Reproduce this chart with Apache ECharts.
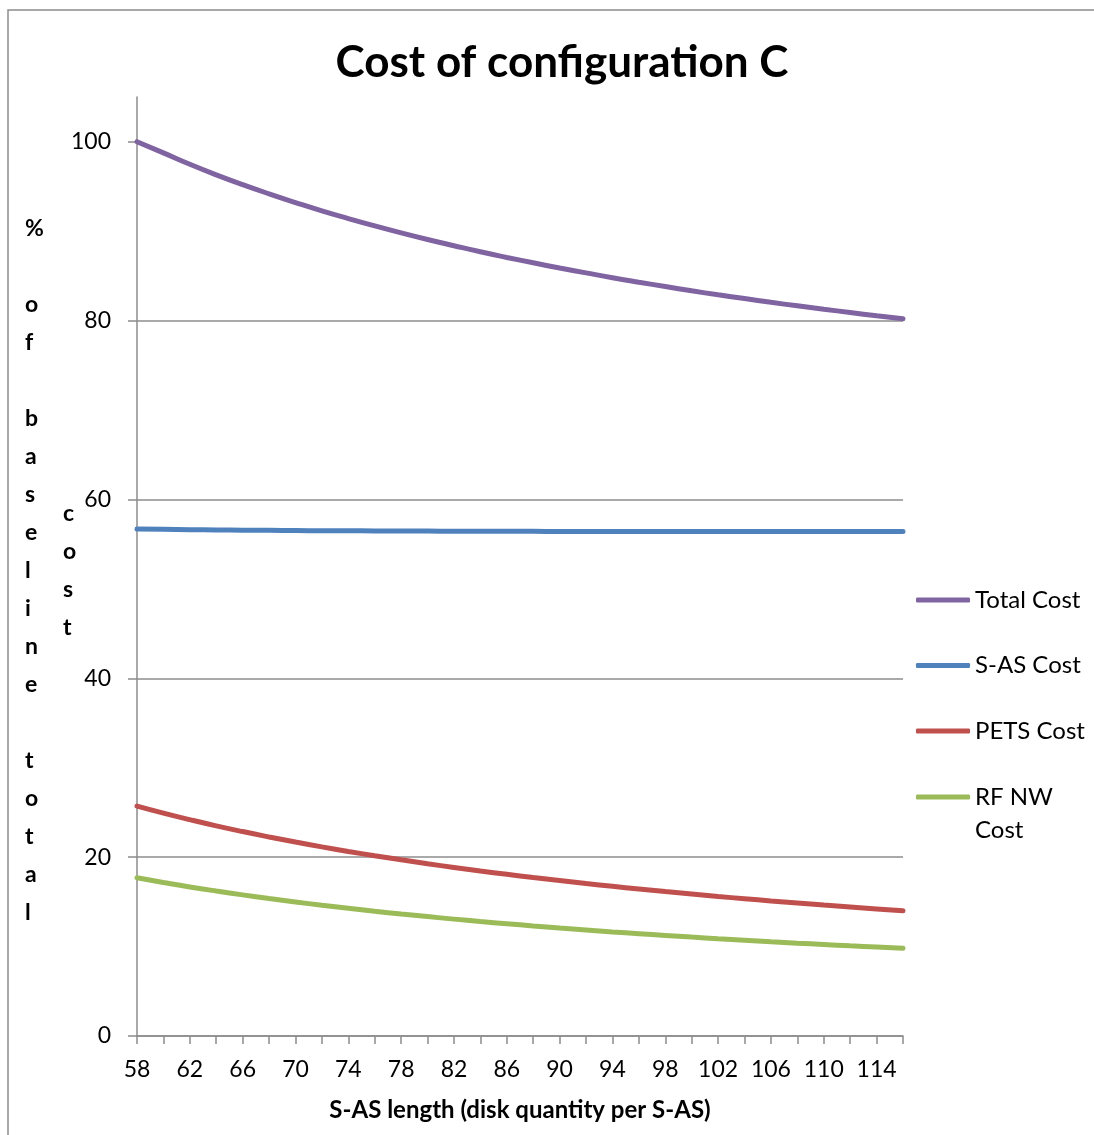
<!DOCTYPE html>
<html>
<head>
<meta charset="utf-8">
<script src="https://cdn.jsdelivr.net/npm/echarts@6/dist/echarts.min.js"></script>
<style>
html,body{margin:0;padding:0;background:#fff;}
#chart{width:1094px;height:1135px;}
</style>
</head>
<body>
<div id="chart"></div>
<script>
const xValues = [58,60,62,64,66,68,70,72,74,76,78,80,82,84,86,88,90,92,94,96,98,100,102,104,106,108,110,112,114,116];
const totalCost = [100.0,98.75,97.48,96.30,95.20,94.17,93.20,92.27,91.41,90.59,89.81,89.07,88.37,87.69,87.06,86.46,85.88,85.33,84.79,84.29,83.81,83.33,82.88,82.46,82.04,81.65,81.27,80.90,80.54,80.20];
const sasCost = [56.70,56.66,56.62,56.59,56.56,56.54,56.52,56.50,56.49,56.48,56.47,56.46,56.45,56.44,56.43,56.43,56.42,56.42,56.41,56.41,56.41,56.40,56.40,56.40,56.40,56.40,56.40,56.40,56.40,56.40];
const petsCost = [25.70,24.92,24.19,23.50,22.86,22.26,21.69,21.15,20.64,20.16,19.70,19.26,18.85,18.45,18.08,17.72,17.38,17.05,16.74,16.44,16.15,15.87,15.60,15.35,15.10,14.87,14.64,14.42,14.20,14.00];
const rfnwCost = [17.69,17.17,16.67,16.21,15.78,15.37,14.99,14.62,14.28,13.95,13.64,13.35,13.07,12.80,12.55,12.31,12.08,11.86,11.64,11.44,11.25,11.06,10.88,10.71,10.54,10.38,10.23,10.08,9.94,9.80];
const yTicks = [0,20,40,60,80,100];
const seriesNames = ['Total Cost','S-AS Cost','PETS Cost','RF NW Cost'];
const seriesColors = ['#8064A2','#4F81BD','#C0504D','#9BBB59'];
const seriesData = [totalCost, sasCost, petsCost, rfnwCost];

const FONT = 'Lato';
const chart = echarts.init(document.getElementById('chart'));

const series = seriesNames.map((n,i)=>({
  name: n,
  type: 'line',
  smooth: true,
  showSymbol: false,
  symbol: 'none',
  data: xValues.map((x,k)=>[x, seriesData[i][k]]),
  lineStyle: {color: seriesColors[i], width: 5, cap: 'round'},
  itemStyle: {color: seriesColors[i]},
  z: 3
}));

chart.setOption({
  animation: false,
  backgroundColor: '#fff',
  textStyle: {fontFamily: FONT},
  title: {
    text: 'Cost of configuration C',
    left: 557, textAlign: 'center',
    top: 36,
    textStyle: {fontFamily: FONT, fontWeight: 'bold', fontSize: 44, color: '#000'}
  },
  grid: {left: 137, right: 191, top: 97, bottom: 99, containLabel: false},
  xAxis: {
    type: 'value', min: 58, max: 116, interval: 2,
    name: 'S-AS length (disk quantity per S-AS)',
    nameLocation: 'middle', nameGap: 62,
    nameTextStyle: {fontFamily: FONT, fontWeight: 'bold', fontSize: 24, color: '#000'},
    axisLine: {lineStyle: {color: '#8c8c8c', width: 1.5}},
    axisTick: {show: true, length: 8, lineStyle: {color: '#8c8c8c', width: 1.5}},
    axisLabel: {
      margin: 22, fontSize: 23, color: '#000', fontFamily: FONT,
      formatter: v => ((v - 58) % 4 === 0 && v <= 114) ? String(v) : ''
    },
    splitLine: {show: false}
  },
  yAxis: {
    type: 'value', min: 0, max: 105, interval: 20,
    axisLine: {show: true, lineStyle: {color: '#8c8c8c', width: 1.5}},
    axisTick: {show: true, length: 9, customValues: yTicks, lineStyle: {color: '#8c8c8c', width: 1.5}},
    axisLabel: {margin: 26, fontSize: 23, color: '#000', fontFamily: FONT, customValues: yTicks},
    splitLine: {show: true, showMaxLine: false, lineStyle: {color: '#8c8c8c', width: 1.5}}
  },
  legend: [{
    data: seriesNames.slice(0,3),
    orient: 'vertical', left: 916, top: 585, padding: 0,
    itemWidth: 54, itemHeight: 5, itemGap: 35.5,
    icon: 'roundRect',
    textStyle: {fontFamily: FONT, fontSize: 24, color: '#000', lineHeight: 30}
  }, {
    data: ['RF NW Cost'],
    orient: 'vertical', left: 916, top: 747.5, padding: 0,
    itemWidth: 54, itemHeight: 5,
    icon: 'roundRect',
    formatter: n => '\nRF NW\nCost',
    textStyle: {fontFamily: FONT, fontSize: 24, color: '#000', lineHeight: 33}
  }],
  graphic: [
    {type: 'rect', shape: {x: 8, y: 10, width: 1100, height: 1140}, style: {fill: 'none', stroke: '#8c8c8c', lineWidth: 1.5}, silent: true},
    {type: 'text', left: 25, top: 210, style: {text: '%\n\no\nf\n\nb\na\ns\ne\nl\ni\nn\ne\n\nt\no\nt\na\nl', font: 'bold 23px Lato', lineHeight: 38, align: 'center', fill: '#000', width: 20}},
    {type: 'text', left: 63, top: 495, style: {text: 'c\no\ns\nt', font: 'bold 23px Lato', lineHeight: 38, align: 'center', fill: '#000', width: 20}}
  ],
  series: series
});
</script>
</body>
</html>
